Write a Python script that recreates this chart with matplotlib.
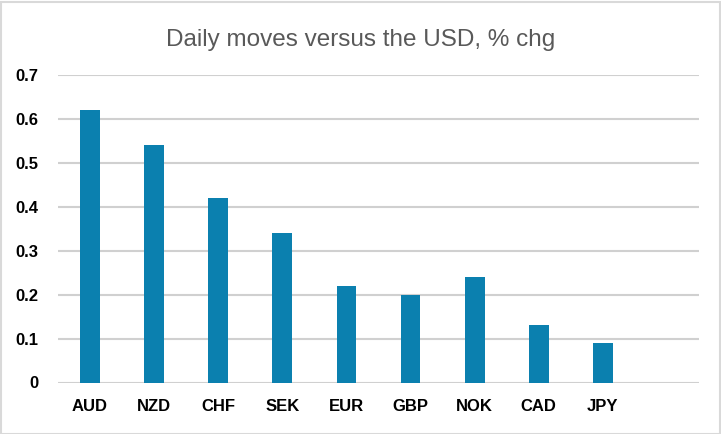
import matplotlib
matplotlib.use("Agg")
import matplotlib.pyplot as plt
from matplotlib.patches import Rectangle

categories = ["AUD", "NZD", "CHF", "SEK", "EUR", "GBP", "NOK", "CAD", "JPY", ""]
values = [0.62, 0.54, 0.42, 0.34, 0.22, 0.20, 0.24, 0.13, 0.09, 0.0]
yticks = [0, 0.1, 0.2, 0.3, 0.4, 0.5, 0.6, 0.7]
ytick_labels = ["0", "0.1", "0.2", "0.3", "0.4", "0.5", "0.6", "0.7"]
title = "Daily moves versus the USD, % chg"

plt.rcParams['font.family'] = ['Liberation Sans', 'DejaVu Sans']

fig = plt.figure(figsize=(7.21, 4.34), dpi=100)
ax = fig.add_axes([58/721, 1-382.5/434, (699-58)/721, (382.5-74.7)/434])

x = list(range(len(categories)))
ax.bar(x[:9], values[:9], width=0.31, color="#0B80AF", zorder=3)
ax.set_xlim(-0.5, len(categories)-0.5)
ax.set_ylim(0, 0.7)
ax.set_yticks(yticks)
ax.set_yticklabels(ytick_labels, fontsize=12, fontweight="bold", color="#000000")
ax.set_xticks(x)
ax.set_xticklabels(categories, fontsize=12, fontweight="bold", color="#000000")
ax.tick_params(axis="both", length=0)
ax.tick_params(axis="y", pad=14)
ax.tick_params(axis="x", pad=12)
ax.grid(axis="y", color="#D0D0D0", linewidth=1.5, zorder=0)
for s in ax.spines.values():
    s.set_visible(False)

fig.text(0.5, 1-40/434, title, ha="center", va="center", fontsize=17.5, color="#595959")

fig.patches.append(Rectangle((0.5/721, 0.5/434), 1-2/721, 1-2/434, transform=fig.transFigure,
                             fill=False, edgecolor="#D9D9D9", linewidth=1.5))

fig.savefig("out.png", dpi=100)
